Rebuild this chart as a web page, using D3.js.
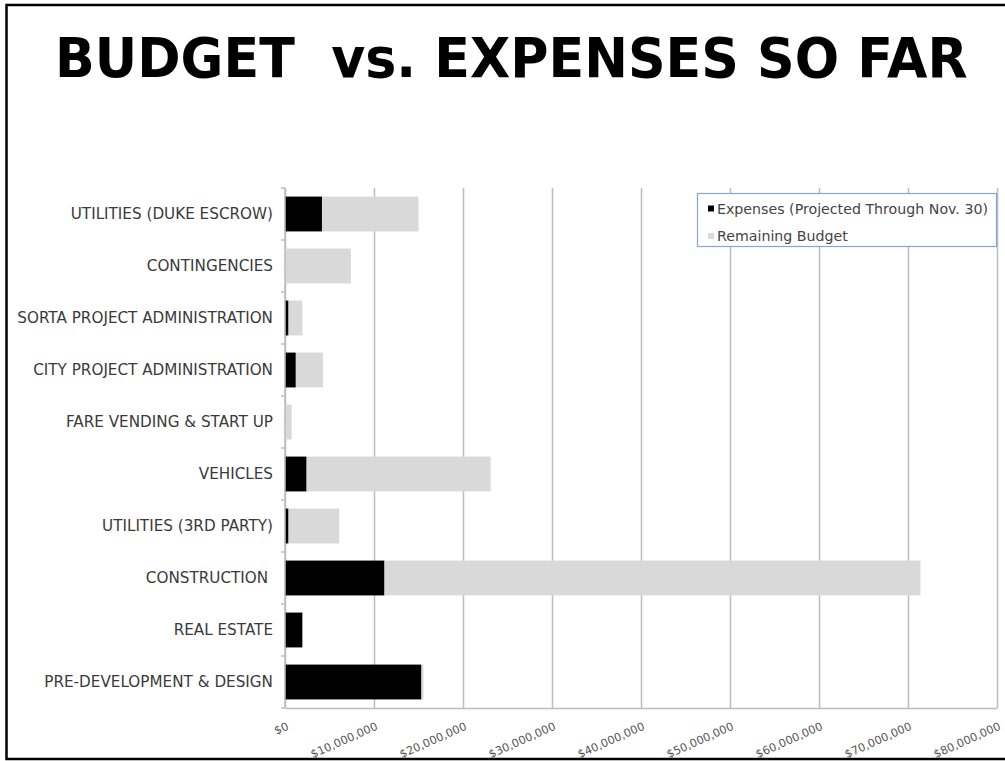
<!DOCTYPE html>
<html>
<head>
<meta charset="utf-8">
<script src="https://cdn.jsdelivr.net/npm/d3@7"></script>
<style>
  body { margin: 0; background: #fff; }
  svg { display: block; }
</style>
</head>
<body>
<div id="budget-chart"></div>
<script>
var categories = [
  "UTILITIES (DUKE ESCROW)",
  "CONTINGENCIES",
  "SORTA PROJECT ADMINISTRATION",
  "CITY PROJECT ADMINISTRATION",
  "FARE VENDING & START UP",
  "VEHICLES",
  "UTILITIES (3RD PARTY)",
  "CONSTRUCTION ",
  "REAL ESTATE",
  "PRE-DEVELOPMENT & DESIGN"
];
// dollars
var expenses  = [4150000, 0, 370000, 1200000, 0, 2400000, 370000, 11150000, 1950000, 15300000];
var remaining = [10850000, 7400000, 1580000, 3070000, 750000, 20700000, 5730000, 60250000, 0, 250000];
var tickValues = [0, 10000000, 20000000, 30000000, 40000000, 50000000, 60000000, 70000000, 80000000];
var seriesNames = ["Expenses (Projected Through Nov. 30)", "Remaining Budget"];
var seriesColors = ["#000000", "#d9d9d9"];

var W = 1005, H = 761;
var plot = {left: 285, right: 997, top: 188, bottom: 708};

var svg = d3.select("#budget-chart").append("svg")
    .attr("width", W)
    .attr("height", H);

// shrink a font until the widest text fits the target width
function fitFont(sel, size, target) {
  sel.style("font-size", size + "px");
  var w = d3.max(sel.nodes(), function(n){ return n.getComputedTextLength(); });
  sel.style("font-size", (size * target / w) + "px");
}

// frame
svg.append("rect")
    .attr("x", 6.5).attr("y", 5)
    .attr("width", W + 10).attr("height", 754)
    .attr("fill", "none")
    .attr("stroke", "#000")
    .attr("stroke-width", 2.5);

// title - squeezed horizontally to the reference's span
var title = svg.append("text")
    .attr("x", 0).attr("y", 0)
    .style("font-family", "'DejaVu Sans', sans-serif")
    .style("font-weight", "bold")
    .style("font-size", "55px")
    .style("white-space", "pre")
    .attr("fill", "#000")
    .text("BUDGET  vs. EXPENSES SO FAR");
var tw = title.node().getComputedTextLength();
title.attr("transform", "translate(55,77) scale(" + (913 / tw) + ",1)");

var x = d3.scaleLinear()
    .domain([0, 80000000])
    .range([plot.left, plot.right]);

var y = d3.scaleBand()
    .domain(categories)
    .range([plot.top, plot.bottom])
    .paddingInner(0.33)
    .paddingOuter(0.165);

// gridlines + x labels
var xAxis = d3.axisBottom(x)
    .tickValues(tickValues)
    .tickSizeInner(-(plot.bottom - plot.top))
    .tickSizeOuter(0)
    .tickFormat(function(d){ return "$" + d3.format(",")(d); });

var gx = svg.append("g")
    .attr("class", "x axis")
    .attr("transform", "translate(0," + plot.bottom + ")")
    .call(xAxis);
gx.select(".domain").attr("stroke", "#bdbdbd").attr("stroke-width", 1.5);
gx.selectAll(".tick line").attr("stroke", "#bdbdbd").attr("stroke-width", 1.5);
gx.selectAll(".tick text")
    .attr("fill", "#555")
    .style("font-family", "'DejaVu Sans', sans-serif")
    .style("font-size", "11.3px")
    .attr("text-anchor", "end")
    .attr("y", 0).attr("dy", 0)
    .attr("transform", "translate(4,21) rotate(-24)");

// bars
var rows = categories.map(function(c, i){
  return {cat: c, exp: expenses[i], rem: remaining[i]};
});

var bar = svg.selectAll(".row")
    .data(rows)
  .enter().append("g")
    .attr("class", "row");

bar.append("rect")
    .attr("x", function(d){ return x(d.exp); })
    .attr("y", function(d){ return y(d.cat); })
    .attr("width", function(d){ return x(d.exp + d.rem) - x(d.exp); })
    .attr("height", y.bandwidth())
    .attr("fill", seriesColors[1]);

bar.append("rect")
    .attr("x", x(0))
    .attr("y", function(d){ return y(d.cat); })
    .attr("width", function(d){ return x(d.exp) - x(0); })
    .attr("height", y.bandwidth())
    .attr("fill", seriesColors[0]);

// y axis: line, boundary ticks, labels
var gy = svg.append("g").attr("class", "y axis");
gy.append("line")
    .attr("x1", x(0)).attr("x2", x(0))
    .attr("y1", plot.top).attr("y2", plot.bottom)
    .attr("stroke", "#bdbdbd").attr("stroke-width", 1.5);

var bounds = categories.map(function(c){ return y(c) - y.step() * y.paddingInner() / 2; });
bounds.push(plot.bottom);
gy.selectAll(".btick")
    .data(bounds)
  .enter().append("line")
    .attr("x1", x(0) - 4).attr("x2", x(0))
    .attr("y1", function(d){ return d; }).attr("y2", function(d){ return d; })
    .attr("stroke", "#bdbdbd").attr("stroke-width", 1.5);

var labels = gy.selectAll(".lbl")
    .data(categories)
  .enter().append("text")
    .attr("x", 273)
    .attr("y", function(d){ return y(d) + y.bandwidth() / 2; })
    .attr("dy", "0.36em")
    .attr("text-anchor", "end")
    .attr("fill", "#3a3a3a")
    .style("font-family", "'DejaVu Sans', sans-serif")
    .style("white-space", "pre")
    .text(function(d){ return d; });
fitFont(labels, 14, 256);

// legend
var lg = svg.append("g").attr("class", "legend");
lg.append("rect")
    .attr("x", 697.5).attr("y", 193.5)
    .attr("width", 299).attr("height", 53)
    .attr("fill", "#fff")
    .attr("stroke", "#85a6d4")
    .attr("stroke-width", 1.2);

var li = lg.selectAll(".item")
    .data(seriesNames)
  .enter().append("g")
    .attr("transform", function(d, i){ return "translate(708," + (213.5 + i * 27.5) + ")"; });
li.append("rect")
    .attr("x", 0).attr("y", -8)
    .attr("width", 6).attr("height", 6)
    .attr("fill", function(d, i){ return seriesColors[i]; });
var ltext = li.append("text")
    .attr("x", 9).attr("y", 0)
    .attr("fill", "#444")
    .style("font-family", "'DejaVu Sans', sans-serif")
    .text(function(d){ return d; });
fitFont(ltext, 12.3, 271);
</script>
</body>
</html>
